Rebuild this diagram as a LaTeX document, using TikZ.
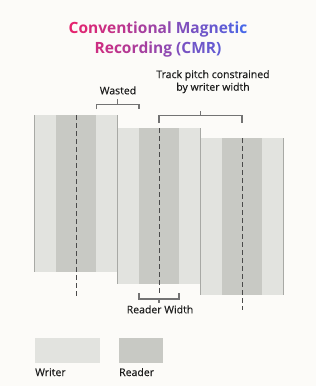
\documentclass[tikz,border=0pt]{standalone}
\usepackage{fontspec}
\setmainfont{Open Sans}
\newfontfamily\lblfont{Open Sans}[FakeBold=0.35]
\definecolor{bgc}{HTML}{FCFBF8}
\definecolor{wcol}{HTML}{E2E3DF}
\definecolor{rcol}{HTML}{C8C9C4}
\definecolor{edgec}{HTML}{A8A9A5}
\definecolor{brc}{HTML}{737373}
\definecolor{dashc}{HTML}{4A4A4A}
\definecolor{txtc}{HTML}{1C1C1C}
\definecolor{tp}{HTML}{E8226C}
\definecolor{tb}{HTML}{4468EA}
\newcommand{\gc}[2]{\textcolor{tb!#1!tp}{#2}}
\begin{document}
\begin{tikzpicture}[x=1pt,y=-1pt,
  writerbox/.style={fill=wcol},
  readerbox/.style={fill=rcol},
  edgeline/.style={draw=edgec,line width=1.4pt},
  centerline/.style={draw=dashc,line width=0.8pt,dash pattern=on 5pt off 3pt},
  bracket/.style={draw=brc,line width=1.2pt},
  lbl/.style={text=txtc,font=\lblfont\fontsize{10.5}{12.6}\selectfont,inner sep=0pt,anchor=base},
  ttl/.style={font=\fontsize{15.5}{20}\selectfont\bfseries,inner sep=0pt,anchor=base}]
\useasboundingbox (0,0) rectangle (316,386);
\fill[bgc] (0,0) rectangle (316,386);
% title
\node[ttl] (t1) at (158,33.3) {\gc{2}{C}\gc{7}{o}\gc{12}{n}\gc{17}{v}\gc{21}{e}\gc{26}{n}\gc{31}{t}\gc{36}{i}\gc{40}{o}\gc{45}{n}\gc{50}{a}\gc{55}{l} \gc{64}{M}\gc{69}{a}\gc{74}{g}\gc{79}{n}\gc{83}{e}\gc{88}{t}\gc{93}{i}\gc{98}{c}};
\node[ttl] (t2) at (158,53.3) {\gc{17}{R}\gc{22}{e}\gc{26}{c}\gc{31}{o}\gc{36}{r}\gc{41}{d}\gc{45}{i}\gc{50}{n}\gc{55}{g} \gc{64}{(}\gc{69}{C}\gc{74}{M}\gc{79}{R}\gc{83}{)}};
% blocks
\foreach \l/\t/\b/\d in {34.5/115/272/298, 117.5/128/284/293, 200.5/138.3/295/310}{
  \fill[writerbox] (\l,\t) rectangle ++(83,\b-\t);
  \fill[readerbox] (\l+21.5,\t) rectangle (\l+61.5,\b);
  \draw[edgeline] (\l,\t) -- (\l,\b);
  \draw[edgeline] (\l+83,\t) -- (\l+83,\b);
  \draw[centerline] (\l+41.5,\t) -- (\l+41.5,\d);
}
% wasted bracket
\coordinate (wa) at (96.5,109);
\coordinate (wb) at (139,109);
\draw[bracket] (wa) -- ++(0,-4.7) -| (wb);
\draw[bracket] (117.75,104.3) -- ++(0,-5);
\node[lbl] (wasted) at (118,94.3) {Wasted};
% track pitch bracket
\coordinate (pa) at (159,123);
\coordinate (pb) at (242,123);
\draw[bracket] (pa) -- ++(0,-7.3) -| (pb);
\draw[bracket] (200.5,115.7) -- ++(0,-5);
\node[lbl,align=center,anchor=base] (pitch) at (213,90.7) {Track pitch constrained\\by writer width};
% reader width bracket
\coordinate (ra) at (139,293);
\coordinate (rb) at (179,293);
\draw[bracket] (ra) -- ++(0,6) -| (rb);
\draw[bracket] (159,299) -- ++(0,4);
\node[lbl] (rw) at (160,313.3) {Reader Width};
% legend
\fill[writerbox] (34.7,337.7) rectangle (100,363.3);
\fill[readerbox] (119,337.7) rectangle (162.7,363.3);
\node[lbl,anchor=base west] (lw) at (35,376) {Writer};
\node[lbl,anchor=base west] (lr) at (119,376) {Reader};
\end{tikzpicture}
\end{document}
